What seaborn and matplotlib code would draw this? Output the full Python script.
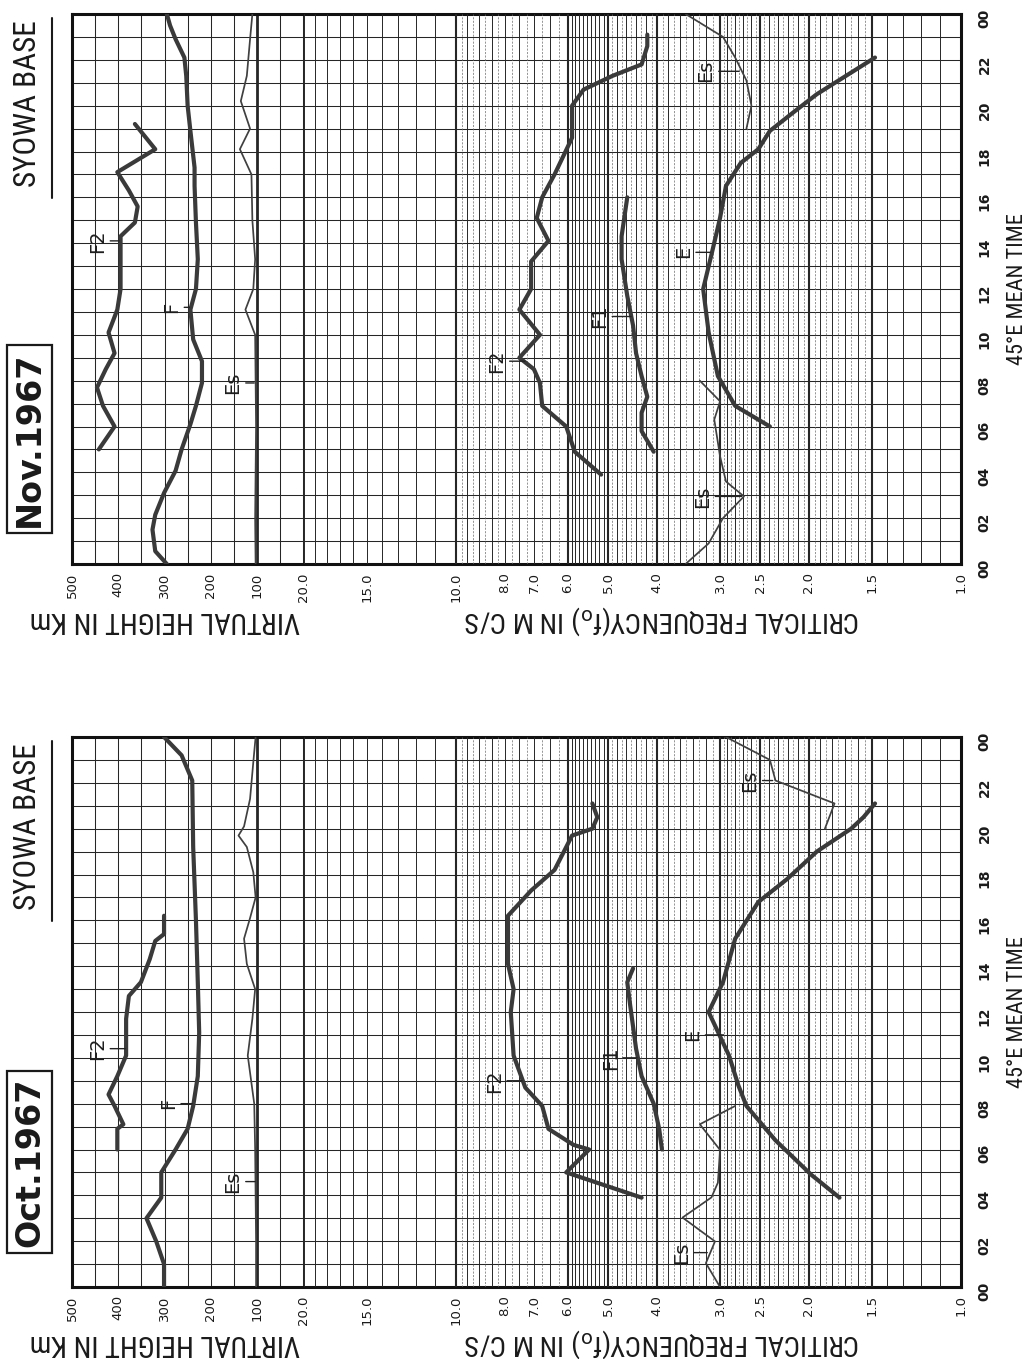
import numpy as np
import pandas as pd
import matplotlib
matplotlib.use("Agg")
import matplotlib.pyplot as plt
from matplotlib.lines import Line2D
from matplotlib.ticker import NullLocator
from matplotlib import font_manager
import seaborn as sns

# ---------------- DATA ----------------
# hours: 45E mean time; heights in km; frequencies in MHz (Mc/s)

# --- Nov. 1967 (upper panel) ---
nov_F_hr = [0, 0.56, 1.5, 2.15, 3.1, 4.07, 5.0, 6.1, 6.9, 7.9, 8.85, 9.8, 11.1, 12.0, 13.3, 14.9, 16.5, 17.3, 18.9, 20.0, 21.3, 22.1, 22.9, 23.5, 24]
nov_F_km = [295, 320, 326, 320, 301, 276, 263, 244, 232, 219, 219, 238, 244, 232, 228, 232, 235, 235, 244, 250, 253, 257, 276, 288, 295]
nov_F2h_hr = [5.0, 6.0, 6.9, 7.7, 8.5, 9.2, 10.1, 11.1, 12.0, 13.3, 14.3, 14.9, 15.6, 16.3, 17.1, 18.1, 19.2]
nov_F2h_km = [442, 408, 433, 446, 427, 408, 421, 402, 395, 395, 395, 364, 358, 377, 402, 320, 364]
nov_Esh_hr = [0, 2, 4, 6, 8, 10, 11.1, 12, 13.3, 15, 17, 18.1, 19.0, 20.2, 21.3, 22.9, 24]
nov_Esh_km = [103, 104, 103, 102, 103, 104, 125, 108, 104, 110, 112, 137, 115, 135, 122, 115, 110]
nov_F2_hr = [3.9, 4.9, 6.0, 6.9, 7.9, 8.5, 9.0, 10.0, 11.1, 12.0, 13.2, 14.1, 15.1, 16.0, 17.0, 18.6, 20.0, 20.7, 21.3, 21.8, 22.6, 23.1]
nov_F2_mc = [5.16, 5.82, 6.05, 6.75, 6.82, 7.01, 7.49, 6.82, 7.49, 7.1, 7.1, 6.56, 6.92, 6.75, 6.38, 5.89, 5.89, 5.59, 4.90, 4.29, 4.18, 4.18]
nov_F1_hr = [4.9, 5.8, 6.6, 7.3, 8.2, 9.2, 10.4, 11.7, 13.3, 14.3, 16.0]
nov_F1_mc = [4.06, 4.29, 4.29, 4.18, 4.29, 4.40, 4.46, 4.58, 4.70, 4.70, 4.58]
nov_E_hr = [6.0, 6.9, 8.2, 10.1, 12.0, 13.5, 15.1, 16.5, 17.5, 18.1, 18.9, 19.7, 20.5, 21.3, 22.1]
nov_E_mc = [2.39, 2.80, 3.03, 3.16, 3.24, 3.12, 3.0, 2.92, 2.73, 2.52, 2.39, 2.15, 1.93, 1.69, 1.48]
nov_Es1_hr = [0, 0.9, 2.0, 2.95, 3.6, 4.7, 6.3, 7.1, 8.0]
nov_Es1_mc = [3.51, 3.16, 2.96, 2.69, 2.92, 3.0, 3.08, 3.0, 3.29]
nov_Es2_hr = [19.0, 20.0, 21.1, 22.1, 23.0, 24.0]
nov_Es2_mc = [2.66, 2.60, 2.66, 2.80, 2.96, 3.51]

# --- Oct. 1967 (lower panel) ---
oct_F_hr = [0, 1.0, 2.0, 3.0, 3.9, 5.0, 6.0, 6.9, 7.9, 9.2, 11.1, 13.3, 16.0, 19.2, 22.1, 23.2, 24]
oct_F_km = [301, 301, 318, 339, 307, 307, 276, 250, 238, 228, 225, 228, 232, 238, 240, 263, 301]
oct_F2h_hr = [6.0, 6.9, 7.1, 7.9, 8.4, 9.2, 10.1, 11.7, 12.7, 13.3, 14.3, 15.1, 15.4, 16.2]
oct_F2h_km = [402, 402, 389, 408, 421, 402, 383, 383, 377, 351, 332, 320, 301, 301]
oct_Esh_hr = [0, 2, 4, 6, 8, 10.1, 11.7, 13.0, 14.1, 15.2, 16.1, 17.0, 18.1, 19.2, 19.7, 20.1, 21.3, 22.9, 24]
oct_Esh_km = [102, 102, 103, 104, 106, 120, 110, 104, 122, 128, 115, 103, 108, 122, 140, 128, 115, 108, 103]
oct_F2_hr = [3.9, 5.0, 6.0, 6.2, 6.9, 7.9, 8.7, 10.1, 12.0, 13.0, 14.1, 16.2, 17.3, 18.2, 19.7, 20.0, 20.5, 21.1]
oct_F2_mc = [4.29, 6.05, 5.45, 5.85, 6.56, 6.75, 7.29, 7.69, 7.79, 7.69, 7.89, 7.89, 7.1, 6.38, 5.89, 5.37, 5.25, 5.37]
oct_F1_hr = [6.0, 6.9, 8.0, 9.2, 10.4, 12.3, 13.3, 13.9]
oct_F1_mc = [3.91, 3.96, 4.06, 4.29, 4.40, 4.52, 4.58, 4.46]
oct_E_hr = [3.9, 4.9, 6.4, 7.9, 8.8, 10.1, 12.0, 13.3, 15.2, 16.8, 17.8, 19.0, 20.0, 20.5, 21.1]
oct_E_mc = [1.74, 1.98, 2.33, 2.66, 2.76, 2.88, 3.16, 2.96, 2.8, 2.52, 2.21, 1.93, 1.65, 1.56, 1.48]
oct_Es1_hr = [0, 1.04, 1.99, 3.03, 3.91, 4.55, 5.98, 7.1, 7.9]
oct_Es1_mc = [3.0, 3.2, 3.07, 3.56, 3.12, 3.03, 3.0, 3.29, 2.80]
oct_Es2_hr = [20.0, 21.1, 22.1, 23.0, 24.0]
oct_Es2_mc = [1.86, 1.78, 2.33, 2.39, 2.92]

# curve labels: (text, label value, hour, leader end value)
nov_labels_km = [("F2", 445, 14.1, 398), ("F", 285, 11.2, 246), ("Es", 152, 7.9, 106)]
nov_labels_mc = [("F2", 8.3, 8.85, 7.3), ("F1", 5.2, 10.8, 4.5), ("E", 3.55, 13.6, 3.14),
                 ("Es", 3.2, 21.5, 2.75), ("Es", 3.25, 2.95, 2.72)]
oct_labels_km = [("F2", 445, 10.4, 385), ("F", 292, 8.0, 240), ("Es", 152, 4.6, 104)]
oct_labels_mc = [("F2", 8.4, 9.0, 7.4), ("F1", 4.95, 10.0, 4.38), ("E", 3.4, 11.0, 2.95),
                 ("Es", 2.62, 22.1, 2.36), ("Es", 3.58, 1.5, 3.18)]

# axis tick labels
km_ticks = [500, 400, 300, 200, 100]
km_tick_labels = ["500", "400", "300", "200", "100"]
mc_ticks = [20, 15, 10, 8, 7, 6, 5, 4, 3, 2.5, 2, 1.5, 1]
mc_tick_labels = ["20.0", "15.0", "10.0", "8.0", "7.0", "6.0", "5.0", "4.0", "3.0", "2.5", "2.0", "1.5", "1.0"]
hour_ticks = list(range(0, 25, 2))
hour_tick_labels = ["00", "02", "04", "06", "08", "10", "12", "14", "16", "18", "20", "22", "00"]

# ---------------- STYLE ----------------
sns.set_theme(style="white")
avail = {f.name for f in font_manager.fontManager.ttflist}
NARROW = next((f for f in ["Liberation Sans Narrow", "DejaVu Sans Condensed", "Roboto Condensed",
                           "Open Sans Condensed"] if f in avail), "DejaVu Sans")
plt.rcParams['font.family'] = ['DejaVu Sans']
plt.rcParams['mathtext.default'] = 'regular'

W, H = 1026, 1359
fig = plt.figure(figsize=(W / 100, H / 100), dpi=100)
fig.patch.set_facecolor("white")

X0, X1 = 72, 961           # frame edges in px
PX_DEC = 505.0             # px per decade of frequency
PX_KM = 0.4625             # px per km of height
F_LEFT = 10 ** ((X1 - X0) / PX_DEC)
KM_RIGHT = 500 - (X1 - X0) / PX_KM

GRID = "#262626"
GRID2 = "#6a6a6a"
CURVE = "#3a3a3a"

km_grid = list(range(0, 501, 50))
f_solid = sorted(set(np.round(np.concatenate([
    np.arange(1.0, 3.0, 0.1), np.arange(3.0, 5.0, 0.2), np.arange(5.0, 6.0, 0.1),
    np.arange(6.0, 10.0, 0.5), np.arange(10.0, 20.5, 1.0)]), 2)))
f_dash = sorted(set(np.round(np.concatenate([
    np.arange(1.55, 2.0, 0.1), np.arange(2.05, 3.0, 0.1), np.arange(3.1, 5.0, 0.2),
    np.arange(6.25, 10.0, 0.5)]), 3)))
f_thick = [1.5, 2.0, 2.5, 3.0, 4.0, 5.0, 6.0, 10.0]

fits = []


def line(ax, vals, hrs, thick=True):
    sns.lineplot(x=vals, y=hrs, ax=ax, orient="y", estimator=None, sort=False,
                 color=CURVE if thick else "#404040", linewidth=3.0 if thick else 1.25,
                 legend=False, zorder=5)


def panel(top, bottom, month, km_curves, mc_curves, lab_km, lab_mc):
    rect = [X0 / W, 1 - bottom / H, (X1 - X0) / W, (bottom - top) / H]
    axh = fig.add_axes(rect)
    axf = axh.twiny()
    axf.set_xscale("log")

    for km in km_grid:
        axh.axvline(km, color=GRID, lw=2.0 if km == 100 else 0.75, zorder=1)
    for f in f_solid:
        axf.axvline(f, color=GRID, lw=1.5 if f in f_thick else 0.7, zorder=1)
    for f in f_dash:
        axf.axvline(f, color=GRID2, lw=0.5, ls=(0, (3, 2)), zorder=1)
    for hh in range(1, 24):
        axh.axhline(hh, color=GRID, lw=0.75, zorder=1)

    for vals, hrs, thick in km_curves:
        line(axh, vals, hrs, thick)
    for vals, hrs, thick in mc_curves:
        line(axf, vals, hrs, thick)

    for ax, labs in ((axh, lab_km), (axf, lab_mc)):
        for txt, v, hr, end in labs:
            ax.annotate(txt, xy=(end, hr), xytext=(v, hr), rotation=90, ha="center", va="center",
                        fontsize=14, color="#1e1e1e", zorder=6,
                        arrowprops=dict(arrowstyle="-", lw=1.0, color="#222222", shrinkA=0, shrinkB=0))

    axh.set_xlim(500, KM_RIGHT)
    axf.set_xlim(F_LEFT, 1.0)
    axh.set_ylim(0, 24)
    axh.set_xlabel("")
    axh.set_ylabel("")
    axf.set_xlabel("")
    axf.set_ylabel("")

    axh.set_xticks(km_ticks, km_tick_labels)
    axf.set_xticks(mc_ticks, mc_tick_labels)
    axf.xaxis.set_minor_locator(NullLocator())
    axf.xaxis.tick_bottom()
    for ax in (axh, axf):
        ax.tick_params(axis="x", length=0, pad=6, labelsize=9.5, labelrotation=90, colors="#1a1a1a")
    axh.set_yticks(hour_ticks, hour_tick_labels)
    axh.yaxis.tick_right()
    axh.tick_params(axis="y", length=0, pad=12, labelsize=10, labelrotation=90, colors="#1a1a1a")
    for t in axh.get_yticklabels():
        t.set_fontweight("bold")

    for s in axh.spines.values():
        s.set_visible(True)
        s.set_linewidth(2.2)
        s.set_color("#111111")
    for s in axf.spines.values():
        s.set_visible(False)

    h = bottom - top
    span = X1 - X0
    ax_y = lambda py: 1 - (py - top) / h
    ax_x = lambda px: (px - X0) / span

    t1 = axh.text(ax_x(28), ax_y(top + 90), "SYOWA BASE", rotation=90, ha="center", va="center",
                  transform=axh.transAxes, family=NARROW, fontsize=20, color="#1a1a1a")
    fits.append((t1, 167, "y"))
    axh.add_line(Line2D([ax_x(52), ax_x(52)], [ax_y(top + 4), ax_y(top + 184)],
                        transform=axh.transAxes, color="#1a1a1a", lw=1.5, clip_on=False))
    axh.text(ax_x(29.5), ax_y(top + 425), month, rotation=90, ha="center", va="center",
             transform=axh.transAxes, fontsize=24, fontweight="bold", color="#1a1a1a",
             bbox=dict(boxstyle="square,pad=0.18", fc="white", ec="#1a1a1a", lw=1.6))
    t3 = axh.text(ax_x(165), ax_y(bottom + 56), "VIRTUAL HEIGHT IN Km", rotation=180,
                  ha="center", va="center", transform=axh.transAxes, family=NARROW,
                  fontsize=16, color="#1a1a1a")
    fits.append((t3, 270, "x"))
    t4 = axh.text(ax_x(662), ax_y(bottom + 56), r"CRITICAL FREQUENCY(f$_{\rm o}$) IN M C/S", rotation=180,
                  ha="center", va="center", transform=axh.transAxes, family=NARROW,
                  fontsize=16, color="#1a1a1a")
    fits.append((t4, 396, "x"))
    t5 = axh.text(ax_x(1017), 0.5, "45°E MEAN TIME", rotation=90, ha="center", va="center",
                  transform=axh.transAxes, family=NARROW, fontsize=14, color="#1a1a1a")
    fits.append((t5, 152, "y"))
    return axh, axf


panel(14, 564, "Nov.1967",
      [(nov_F_km, nov_F_hr, True), (nov_F2h_km, nov_F2h_hr, True), (nov_Esh_km, nov_Esh_hr, False)],
      [(nov_F2_mc, nov_F2_hr, True), (nov_F1_mc, nov_F1_hr, True), (nov_E_mc, nov_E_hr, True),
       (nov_Es1_mc, nov_Es1_hr, False), (nov_Es2_mc, nov_Es2_hr, False)],
      nov_labels_km, nov_labels_mc)

panel(737, 1287, "Oct.1967",
      [(oct_F_km, oct_F_hr, True), (oct_F2h_km, oct_F2h_hr, True), (oct_Esh_km, oct_Esh_hr, False)],
      [(oct_F2_mc, oct_F2_hr, True), (oct_F1_mc, oct_F1_hr, True), (oct_E_mc, oct_E_hr, True),
       (oct_Es1_mc, oct_Es1_hr, False), (oct_Es2_mc, oct_Es2_hr, False)],
      oct_labels_km, oct_labels_mc)

# fit long texts to their measured lengths
fig.canvas.draw()
rend = fig.canvas.get_renderer()
for t, target, along in fits:
    bb = t.get_window_extent(rend)
    cur = bb.height if along == "y" else bb.width
    if cur > 0:
        t.set_fontsize(t.get_fontsize() * target / cur)

fig.savefig("out.png", dpi=100, facecolor="white")
